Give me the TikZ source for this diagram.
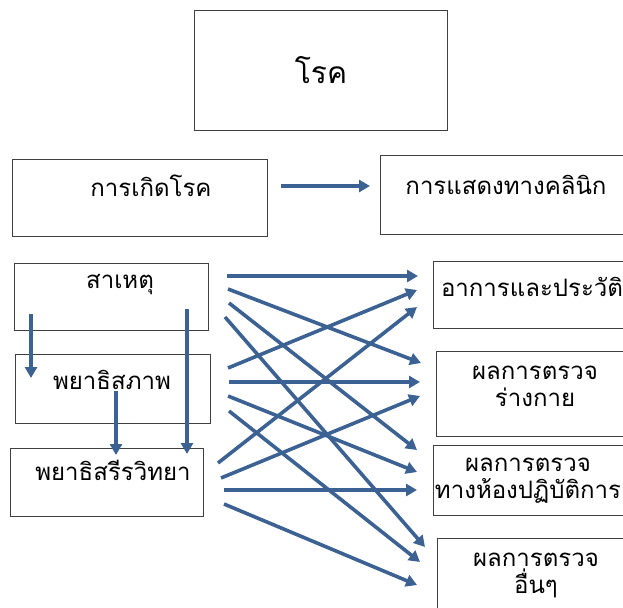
\documentclass[tikz,border=0pt]{standalone}
\usepackage{fontspec}
\usepackage{tikz}
\usetikzlibrary{arrows.meta}
\newfontfamily\thaifont[Script=Thai]{Loma}
\definecolor{arrowColor}{RGB}{60,98,148}
\definecolor{boxColor}{RGB}{64,64,64}
\tikzstyle{diagram} = [x = 1pt, y = -1pt]
\tikzstyle{boxStyle} = [draw=boxColor, line width=1pt, fill=white, inner sep=0pt]
\tikzstyle{boxText} = [font=\thaifont\fontsize{24}{27}\selectfont, align=center, inner sep=0pt]
\tikzstyle{titleText} = [font=\thaifont\fontsize{30}{36}\selectfont, inner sep=0pt]
\tikzstyle{linkStyle} = [color=arrowColor, line width=3.6pt, -{Triangle[length=11pt,width=12pt]}]
% box from the upper left corner, with width and height
\newcommand{\diagramBox}[5]{\node [boxStyle, anchor=north west, minimum width=#4, minimum height=#5] (#1) at (#2,#3) {};}
\newcommand{\linkArrow}[4]{\draw [linkStyle] ([shift={(#2)}]#1) -- ([shift={(#4)}]#3);}

\begin{document}
\begin{tikzpicture}[diagram]
            \useasboundingbox (0,0) rectangle (623,607);

            % top row
            \diagramBox{disease}{194}{10}{253}{120}
            \node [titleText] (diseaseText) at (disease.center) {โรค};
            \diagramBox{onset}{12}{159}{255}{77}
            \node [boxText] (onsetText) at (151,186) {การเกิดโรค};
            \diagramBox{clinical}{380}{155}{250}{79}
            \node [boxText] (clinicalText) at (506,185) {การแสดงทางคลินิก};
            \draw [linkStyle] ([xshift=13]onset.east |- onsetText) -- ([xshift=-10]clinical.west |- onsetText);

            % left column
            \diagramBox{cause}{14}{263}{194}{67}
            \node [boxText] (causeText) at (120,285) {สาเหตุ};
            \diagramBox{pathology}{15}{354}{195}{69}
            \node [boxText] (pathologyText) at (112,380) {พยาธิสภาพ};
            \diagramBox{physiology}{10}{448}{193}{68}
            \node [boxText] (physiologyText) at (113,470) {พยาธิสรีรวิทยา};

            % right column
            \diagramBox{history}{433}{261}{195}{67}
            \node [boxText] (historyText) at (532,287) {อาการและประวัติ};
            \diagramBox{physical}{436}{351}{192}{85}
            \node [boxText] (physicalText) at (535,386) {ผลการตรวจ\\ร่างกาย};
            \diagramBox{lab}{433}{445}{195}{70}
            \node [boxText] (labText) at (528,481) {ผลการตรวจ\\ทางห้องปฏิบัติการ};
            \diagramBox{other}{437}{538}{191}{75}
            \node [boxText] (otherText) at (536,575) {ผลการตรวจ\\อื่นๆ};

            % down arrows
            \linkArrow{cause.south west}{17,-17}{pathology.north west}{16,24}
            \linkArrow{pathology.south west}{101,-33}{physiology.north west}{106,7}
            \linkArrow{cause.south west}{173,-22}{physiology.north west}{177,6}

            % cause
            \linkArrow{cause.north east}{18,13}{history.north west}{-15,15}
            \linkArrow{cause.north east}{19,26}{physical.north west}{-15,12}
            \linkArrow{cause.north east}{20,40}{lab.north west}{-16,5}
            \linkArrow{cause.north east}{16,54}{other.north west}{-12,9}

            % pathology
            \linkArrow{pathology.north east}{17,14}{history.north west}{-16,29}
            \linkArrow{pathology.north east}{18,28}{physical.north west}{-16,31}
            \linkArrow{pathology.north east}{17,42}{lab.north west}{-16,27}
            \linkArrow{pathology.north east}{18,57}{other.north west}{-17,24}

            % physiology
            \linkArrow{physiology.north east}{14,15}{history.north west}{-16,46}
            \linkArrow{physiology.north east}{17,30}{physical.north west}{-16,45}
            \linkArrow{physiology.north east}{20,42}{lab.north west}{-16,45}
            \linkArrow{physiology.north east}{20,56}{other.north west}{-20,47}
          \end{tikzpicture}
\end{document}
